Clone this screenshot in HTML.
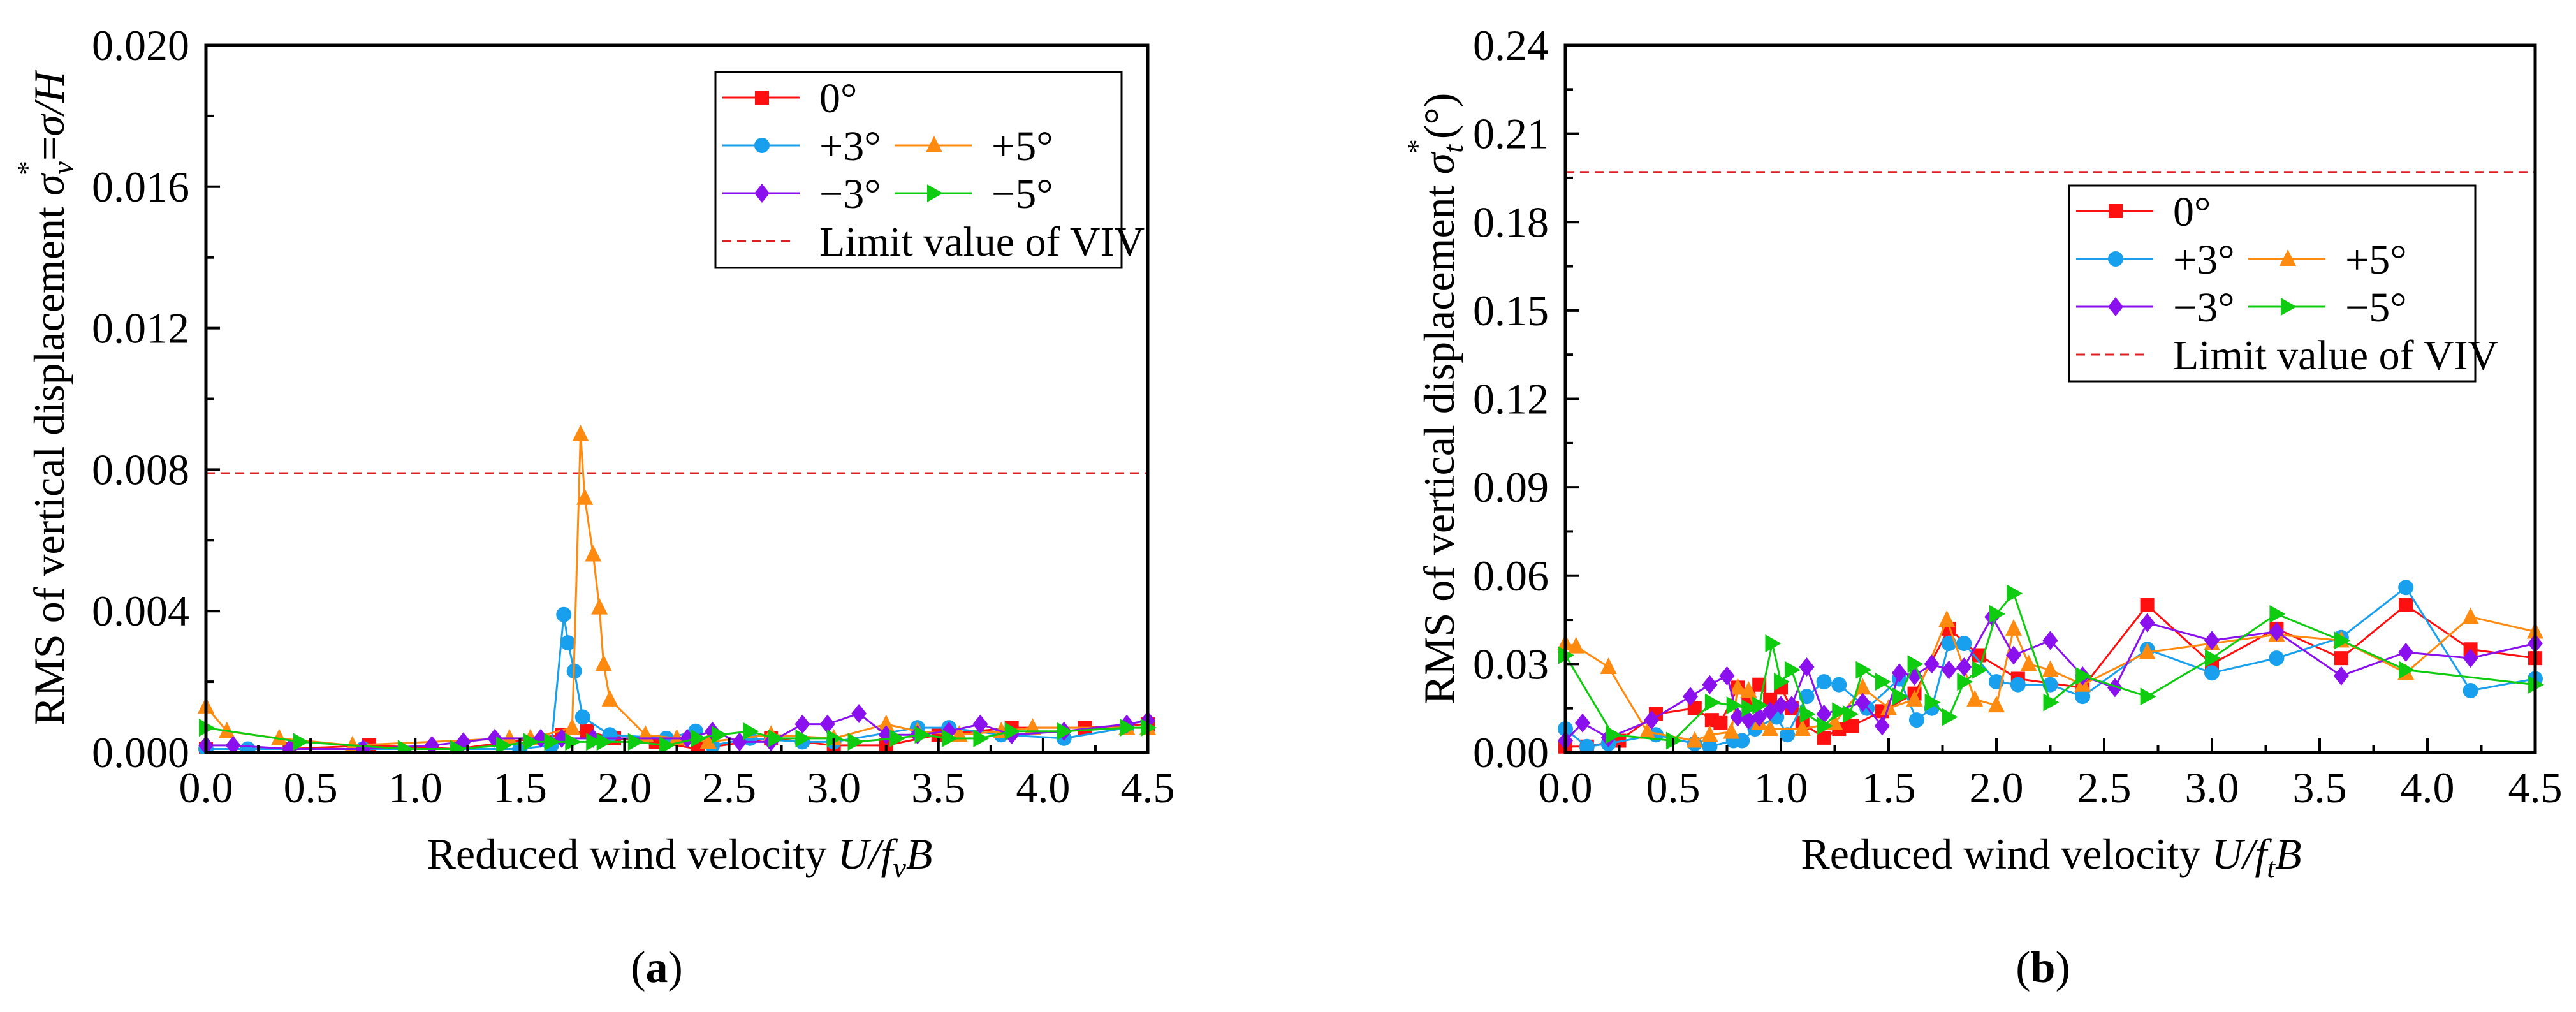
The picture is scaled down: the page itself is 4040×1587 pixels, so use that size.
<!DOCTYPE html>
<html><head><meta charset="utf-8"><style>
html,body{margin:0;padding:0;background:#fff;}
svg, svg text{font-family:"Liberation Serif","Times New Roman","DejaVu Serif",serif;}
</style></head><body>
<svg id="fig" width="4040" height="1582" viewBox="0 0 4040 1582" xmlns="http://www.w3.org/2000/svg" font-family="Liberation Serif, Times New Roman, serif"></svg>
<script>
// ---------- Panel (a) data ----------
const a_x0 = [0,0.4,0.78,1.2,1.7,1.82,1.95,2.15,2.35,2.7,3.0,3.25,3.5,3.85,4.2,4.5];
const a_y0 = [0.0001,0.0001,0.0002,0.0001,0.0005,0.0006,0.0004,0.0003,0.0001,0.0004,0.0002,0.0002,0.0005,0.0007,0.0007,0.0008];
const a_xp3 = [0,0.2,0.75,1.5,1.65,1.71,1.73,1.76,1.80,1.93,2.2,2.34,2.42,2.6,2.85,3.0,3.4,3.55,3.8,4.1,4.4];
const a_yp3 = [0.0001,0.0001,0.0001,0.0001,0.0002,0.0039,0.0031,0.0023,0.001,0.0005,0.0004,0.0006,0.0002,0.0004,0.0003,0.0003,0.0007,0.0007,0.0005,0.0004,0.0007];
const a_xp5 = [0,0.1,0.35,0.7,1.45,1.55,1.75,1.79,1.81,1.85,1.88,1.90,1.93,2.1,2.25,2.4,2.7,3.0,3.25,3.4,3.6,3.8,3.95,4.4,4.5];
const a_yp5 = [0.0013,0.0006,0.0004,0.0002,0.0004,0.0004,0.0007,0.009,0.0072,0.0056,0.0041,0.0025,0.0015,0.0005,0.0004,0.0003,0.0005,0.0004,0.0008,0.0006,0.0005,0.0006,0.0007,0.0007,0.0007];
const a_xm3 = [0,0.13,0.4,0.75,1.08,1.23,1.38,1.6,1.7,1.85,2.3,2.42,2.55,2.7,2.85,2.97,3.12,3.25,3.4,3.55,3.7,3.85,4.1,4.4,4.5];
const a_ym3 = [0.0002,0.0002,0.0001,0.0001,0.0002,0.0003,0.0004,0.0004,0.0004,0.0004,0.0004,0.0006,0.0003,0.0003,0.0008,0.0008,0.0011,0.0005,0.0005,0.0006,0.0008,0.0005,0.0006,0.0008,0.0009];
const a_xm5 = [0,0.45,0.95,1.2,1.42,1.55,1.65,1.75,1.85,1.9,2.05,2.2,2.35,2.45,2.6,2.72,2.85,3.0,3.1,3.3,3.42,3.55,3.7,3.85,4.1,4.4,4.5];
const a_ym5 = [0.0007,0.0003,0.0001,0.0001,0.0002,0.0003,0.0003,0.0003,0.0003,0.0003,0.0003,0.0002,0.0004,0.0005,0.0006,0.0004,0.0004,0.0004,0.0003,0.0004,0.0005,0.0004,0.0004,0.0006,0.0006,0.0007,0.0007];
const a_limit = 0.0079;
const a_yticks = ["0.000","0.004","0.008","0.012","0.016","0.020"];
// ---------- Panel (b) data ----------
const b_x0 = [0,0.1,0.25,0.42,0.6,0.68,0.72,0.8,0.85,0.9,0.95,1.0,1.05,1.1,1.2,1.27,1.33,1.47,1.62,1.78,1.92,2.1,2.4,2.7,3.0,3.3,3.6,3.9,4.2,4.5];
const b_y0 = [0.002,0.002,0.004,0.013,0.015,0.011,0.01,0.022,0.018,0.023,0.018,0.022,0.015,0.01,0.005,0.008,0.009,0.014,0.02,0.042,0.033,0.025,0.022,0.05,0.03,0.042,0.032,0.05,0.035,0.032];
const b_xp3 = [0,0.1,0.2,0.42,0.6,0.67,0.78,0.82,0.88,0.98,1.03,1.12,1.2,1.27,1.4,1.55,1.63,1.7,1.78,1.85,2.0,2.1,2.25,2.4,2.7,3.0,3.3,3.6,3.9,4.2,4.5];
const b_yp3 = [0.008,0.002,0.003,0.006,0.003,0.002,0.004,0.004,0.008,0.012,0.006,0.019,0.024,0.023,0.015,0.025,0.011,0.015,0.037,0.037,0.024,0.023,0.023,0.019,0.035,0.027,0.032,0.039,0.056,0.021,0.025];
const b_xp5 = [0,0.05,0.2,0.38,0.6,0.67,0.77,0.8,0.85,0.9,0.95,1.1,1.25,1.38,1.5,1.62,1.77,1.9,2.0,2.08,2.15,2.25,2.4,2.7,3.0,3.3,3.6,3.9,4.2,4.5];
const b_yp5 = [0.037,0.036,0.029,0.007,0.004,0.006,0.007,0.022,0.021,0.01,0.008,0.008,0.01,0.022,0.015,0.018,0.045,0.018,0.016,0.042,0.03,0.028,0.023,0.034,0.037,0.04,0.038,0.027,0.046,0.041];
const b_xm3 = [0,0.08,0.2,0.4,0.58,0.67,0.75,0.8,0.85,0.9,0.95,1.0,1.05,1.12,1.2,1.38,1.47,1.55,1.62,1.7,1.78,1.85,1.98,2.08,2.25,2.4,2.55,2.7,3.0,3.3,3.6,3.9,4.2,4.5];
const b_ym3 = [0.004,0.01,0.005,0.011,0.019,0.023,0.026,0.012,0.011,0.012,0.014,0.016,0.016,0.029,0.013,0.017,0.009,0.027,0.026,0.03,0.028,0.029,0.046,0.033,0.038,0.026,0.022,0.044,0.038,0.041,0.026,0.034,0.032,0.037];
const b_xm5 = [0,0.22,0.5,0.68,0.78,0.85,0.9,0.96,1.0,1.05,1.12,1.2,1.27,1.32,1.38,1.47,1.55,1.62,1.7,1.78,1.85,1.92,2.0,2.08,2.25,2.4,2.7,3.0,3.3,3.6,3.9,4.5];
const b_ym5 = [0.033,0.006,0.004,0.017,0.016,0.015,0.016,0.037,0.024,0.028,0.013,0.009,0.014,0.013,0.028,0.024,0.019,0.03,0.017,0.012,0.024,0.028,0.047,0.054,0.017,0.026,0.019,0.032,0.047,0.038,0.028,0.023];
const b_limit = 0.197;
const b_yticks = ["0.00","0.03","0.06","0.09","0.12","0.15","0.18","0.21","0.24"];
const xticks = ["0.0","0.5","1.0","1.5","2.0","2.5","3.0","3.5","4.0","4.5"];

const NS="http://www.w3.org/2000/svg";
const FF="'Liberation Serif','Times New Roman',serif";
const svg=document.getElementById('fig');
function mk(tag,attrs,parent){const e=document.createElementNS(NS,tag);for(const k in attrs)e.setAttribute(k,attrs[k]);if(tag==='text')e.setAttribute('font-family',FF);(parent||svg).appendChild(e);return e;}
const COL={r:"#ff1010",b:"#18a0ee",o:"#ff8a10",p:"#8a10ee",g:"#10cc10"};

function marker(g,shape,cx,cy,col){
  let e;const s=11;
  if(shape==='sq') e=mk('rect',{x:cx-s,y:cy-s,width:2*s,height:2*s,fill:col},g);
  else if(shape==='ci') e=mk('circle',{cx:cx,cy:cy,r:s+1,fill:col},g);
  else if(shape==='tu') e=mk('polygon',{points:`${cx},${cy-15} ${cx-13},${cy+11} ${cx+13},${cy+11}`,fill:col},g);
  else if(shape==='di') e=mk('polygon',{points:`${cx},${cy-15} ${cx+12},${cy} ${cx},${cy+15} ${cx-12},${cy}`,fill:col},g);
  else e=mk('polygon',{points:`${cx-11},${cy-14} ${cx+14},${cy} ${cx-11},${cy+14}`,fill:col},g);
  
  
}

function panel(o){
  const X=v=>o.x0+(v/4.5)*(o.x1-o.x0);
  const Y=v=>o.yb-(v/o.ymax)*(o.yb-o.yt);
  const g=mk('g',{});
  
  
  const lim=mk('line',{x1:o.x0,x2:o.x1,y1:Y(o.limit),y2:Y(o.limit),stroke:"#e02020","stroke-width":3,"stroke-dasharray":"14,9"},g);
  
  
  for(const s of o.series){
    const sg=mk('g',{},g);
    
    
    const pts=s.x.map((v,i)=>X(v)+','+Y(s.y[i])).join(' ');
    mk('polyline',{points:pts,fill:'none',stroke:s.col,'stroke-width':3},sg);
    s.x.forEach((v,i)=>marker(sg,s.shape,X(v),Y(s.y[i]),s.col));
  }
  mk('rect',{x:o.x0-40,y:o.yb+2,width:o.x1-o.x0+80,height:60,fill:'#fff'},g);
  const fr=mk('rect',{x:o.x0,y:o.yt,width:o.x1-o.x0,height:o.yb-o.yt,fill:'none',stroke:'#000','stroke-width':5},g);
  
  
  xticks.forEach((t,i)=>{
    const v=i*0.5,x=X(v);
    mk('line',{x1:x,x2:x,y1:o.yb,y2:o.yb-22,stroke:'#000','stroke-width':4},g);
    if(i<9){const xm=X(v+0.25);mk('line',{x1:xm,x2:xm,y1:o.yb,y2:o.yb-12,stroke:'#000','stroke-width':4},g);}
    const tx=mk('text',{x:x,y:o.yb+78,'font-size':68,'text-anchor':'middle'},g);
    tx.textContent=t;
    
    
  });
  const n=o.yticks.length-1;
  o.yticks.forEach((t,i)=>{
    const v=o.ymax*i/n,y=Y(v);
    mk('line',{x1:o.x0,x2:o.x0+22,y1:y,y2:y,stroke:'#000','stroke-width':4},g);
    if(i<n){const ym=Y(v+o.ymax/n/2);mk('line',{x1:o.x0,x2:o.x0+12,y1:ym,y2:ym,stroke:'#000','stroke-width':4},g);}
    const ty=mk('text',{x:o.x0-26,y:y+23,'font-size':68,'text-anchor':'end'},g);
    ty.textContent=t;
    
    
  });
  const lg=mk('g',{transform:`translate(${o.lx},${o.ly})`},g);
  
  
  mk('rect',{x:0,y:0,width:637,height:307,fill:'#fff',stroke:'#000','stroke-width':3},lg);
  const entries=[[0,0,0],[1,0,1],[2,1,1],[3,0,2],[4,1,2]];
  entries.forEach(([si,col,row])=>{
    const s=o.series[si];const bx=col?281:11;const by=40+row*75;
    const le=mk('g',{},lg);
    
    
    mk('line',{x1:bx,x2:bx+121,y1:by,y2:by,stroke:s.col,'stroke-width':3},le);
    marker(le,s.shape,bx+62,by,s.col);
    const t=mk('text',{x:bx+152,y:by+23,'font-size':66},le);t.textContent=s.label;
  });
  mk('line',{x1:11,x2:121,y1:265,y2:265,stroke:'#e02020','stroke-width':3,'stroke-dasharray':'14,9'},lg);
  const lt=mk('text',{x:163,y:288,'font-size':66},lg);lt.textContent='Limit value of VIV';
}

const series=(p)=>[
  {id:'0deg',label:'0°',x:p.x0,y:p.y0,col:COL.r,shape:'sq'},
  {id:'plus3',label:'+3°',x:p.xp3,y:p.yp3,col:COL.b,shape:'ci'},
  {id:'plus5',label:'+5°',x:p.xp5,y:p.yp5,col:COL.o,shape:'tu'},
  {id:'minus3',label:'−3°',x:p.xm3,y:p.ym3,col:COL.p,shape:'di'},
  {id:'minus5',label:'−5°',x:p.xm5,y:p.ym5,col:COL.g,shape:'tr'}];

panel({name:'chart-a',x0:323,x1:1800,yt:71,yb:1180,ymax:0.02,limit:a_limit,yticks:a_yticks,lx:1122,ly:113,
  series:series({x0:a_x0,y0:a_y0,xp3:a_xp3,yp3:a_yp3,xp5:a_xp5,yp5:a_yp5,xm3:a_xm3,ym3:a_ym3,xm5:a_xm5,ym5:a_ym5})});
panel({name:'chart-b',x0:2455,x1:3976,yt:71,yb:1180,ymax:0.24,limit:b_limit,yticks:b_yticks,lx:3245,ly:291,
  series:series({x0:b_x0,y0:b_y0,xp3:b_xp3,yp3:b_yp3,xp5:b_xp5,yp5:b_yp5,xm3:b_xm3,ym3:b_ym3,xm5:b_xm5,ym5:b_ym5})});
</script>
<svg style="position:absolute;left:0;top:0" width="4040" height="1582" xmlns="http://www.w3.org/2000/svg">
  <text font-family="'Liberation Serif','Times New Roman',serif" transform="translate(100,625) rotate(-90)" font-size="68" text-anchor="middle">RMS of vertical displacement <tspan font-style="italic">σ</tspan><tspan font-size="46" font-style="italic" dy="14">v</tspan><tspan font-size="46" dx="-22" dy="-56">*</tspan><tspan dy="42">=</tspan><tspan font-style="italic">σ/H</tspan></text>
  <text font-family="'Liberation Serif','Times New Roman',serif" x="1066" y="1362" font-size="68" text-anchor="middle">Reduced wind velocity <tspan font-style="italic">U/f</tspan><tspan font-style="italic" font-size="46" dy="14">v</tspan><tspan font-style="italic" dy="-14">B</tspan></text>
  <text font-family="'Liberation Serif','Times New Roman',serif" x="1030" y="1540" font-size="70" text-anchor="middle">(<tspan font-weight="bold">a</tspan>)</text>
  <text font-family="'Liberation Serif','Times New Roman',serif" transform="translate(2280,625) rotate(-90)" font-size="68" text-anchor="middle">RMS of vertical displacement <tspan font-style="italic">σ</tspan><tspan font-size="46" font-style="italic" dy="14">t</tspan><tspan font-size="46" dx="-14" dy="-56">*</tspan><tspan dy="42">(°)</tspan></text>
  <text font-family="'Liberation Serif','Times New Roman',serif" x="3217" y="1362" font-size="68" text-anchor="middle">Reduced wind velocity <tspan font-style="italic">U/f</tspan><tspan font-style="italic" font-size="46" dy="14">t</tspan><tspan font-style="italic" dy="-14">B</tspan></text>
  <text font-family="'Liberation Serif','Times New Roman',serif" x="3204" y="1540" font-size="70" text-anchor="middle">(<tspan font-weight="bold">b</tspan>)</text>
</svg>
</body></html>
